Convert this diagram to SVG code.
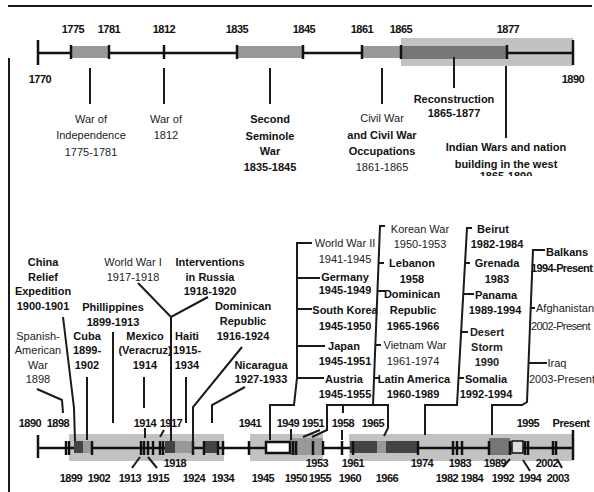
<svg xmlns="http://www.w3.org/2000/svg" width="594" height="492" viewBox="0 0 594 492">
<defs>
<style>
.t{font-family:"Liberation Sans",Arial,sans-serif;font-size:11px;text-anchor:middle;fill:#222}
.b{font-weight:bold;fill:#111}
.y{font-weight:bold;fill:#111;letter-spacing:-0.5px}
.s{text-anchor:start}
.n{letter-spacing:-0.6px}
.ln{stroke:#1a1a1a;stroke-width:2;fill:none}
.ax{stroke:#111;stroke-width:2.5;fill:none}
.tk{stroke:#111;stroke-width:2.5}
.lt{fill:#c2c2c2}
.md{fill:#999}
.dk{fill:#444}
</style>
<clipPath id="cut"><rect x="440" y="140" width="140" height="36"/></clipPath>
</defs>
<rect width="594" height="492" fill="#fff"/>
<g id="frame" class="ln">
<line x1="8" y1="6" x2="592" y2="6"/>
<line x1="9" y1="58" x2="9" y2="492"/>
</g>

<g id="top-timeline">
<rect class="lt" x="401" y="38" width="172" height="28"/>
<line class="ax" x1="38" y1="53" x2="573" y2="53" stroke-width="3"/>
<rect class="md" x="71" y="46" width="38" height="12"/>
<rect class="md" x="237" y="46" width="66" height="12"/>
<rect class="md" x="362" y="46" width="39" height="12"/>
<rect fill="#777" x="401" y="46" width="106" height="13"/>
<g class="tk">
<line x1="38" y1="40" x2="38" y2="65"/>
<line x1="71" y1="45" x2="71" y2="59"/>
<line x1="109" y1="45" x2="109" y2="59"/>
<line x1="164" y1="45" x2="164" y2="59"/>
<line x1="237" y1="45" x2="237" y2="59"/>
<line x1="303" y1="45" x2="303" y2="59"/>
<line x1="362" y1="45" x2="362" y2="59"/>
<line x1="401" y1="45" x2="401" y2="59"/>
<line x1="507" y1="45" x2="507" y2="59"/>
<line x1="573" y1="40" x2="573" y2="65"/>
</g>
<g class="t y">
<text x="73" y="33">1775</text>
<text x="109" y="33">1781</text>
<text x="164" y="33">1812</text>
<text x="237" y="33">1835</text>
<text x="304" y="33">1845</text>
<text x="362" y="33">1861</text>
<text x="401" y="33">1865</text>
<text x="508" y="33">1877</text>
<text x="40" y="83">1770</text>
<text x="573" y="83">1890</text>
</g>
</g>

<g id="top-connectors" class="ln">
<line x1="90" y1="68" x2="90" y2="104"/>
<line x1="164" y1="68" x2="164" y2="104"/>
<line x1="270" y1="68" x2="270" y2="104"/>
<line x1="382" y1="68" x2="382" y2="104"/>
<line x1="454" y1="57" x2="454" y2="88"/>
<line x1="506" y1="66" x2="506" y2="138"/>
</g>

<g id="war-of-independence" class="t">
<text x="91" y="122.5">War of</text>
<text x="91" y="139">Independence</text>
<text x="91" y="155.5">1775-1781</text>
</g>
<g id="war-of-1812" class="t">
<text x="166" y="122.5">War of</text>
<text x="166" y="139">1812</text>
</g>
<g id="second-seminole-war" class="t b">
<text x="270" y="123">Second</text>
<text x="270" y="139.5">Seminole</text>
<text x="270" y="155">War</text>
<text x="270" y="171">1835-1845</text>
</g>
<g id="civil-war" class="t">
<text x="382" y="122">Civil War</text>
<text class="b" x="382" y="138.5">and Civil War</text>
<text class="b" x="382" y="154.5">Occupations</text>
<text x="382" y="170.5">1861-1865</text>
</g>
<g id="reconstruction" class="t b">
<text x="454" y="102.5">Reconstruction</text>
<text x="454" y="117">1865-1877</text>
</g>
<g id="indian-wars" class="t b">
<text x="506" y="151">Indian Wars and nation</text>
<text x="506" y="167.5">building in the west</text>
<text x="506" y="180" clip-path="url(#cut)">1865-1890</text>
</g>

<g id="bottom-timeline">
<rect class="lt" x="69" y="434" width="155" height="27"/>
<rect class="lt" x="250" y="434" width="73" height="27"/>
<rect class="lt" x="349" y="434" width="224" height="27"/>
<line class="ax" x1="38" y1="448" x2="573" y2="448" stroke-width="2"/>
<rect class="dk" x="74" y="441" width="9" height="12"/>
<rect class="md" x="83" y="441" width="9" height="12"/>
<rect class="dk" x="165" y="441" width="10" height="12"/>
<rect class="md" x="175" y="441" width="18" height="12"/>
<rect class="dk" x="204" y="441" width="14" height="12"/>
<rect class="md" x="290" y="438" width="33" height="17"/>
<rect fill="#fff" stroke="#111" stroke-width="2.5" x="266" y="442" width="24" height="11"/>
<rect class="dk" x="350" y="441" width="27" height="12"/>
<rect class="md" x="377" y="441" width="9" height="12"/>
<rect class="dk" x="386" y="441" width="32" height="12"/>
<rect fill="#777" x="489" y="438" width="21" height="17"/>
<rect fill="#ddd" stroke="#111" stroke-width="1.5" x="512" y="441" width="11" height="12"/>
<g class="tk">
<line x1="38" y1="435" x2="38" y2="458"/>
<line x1="66" y1="441" x2="66" y2="455"/>
<line x1="69" y1="441" x2="69" y2="455"/>
<line x1="92" y1="441" x2="92" y2="455"/>
<line x1="141" y1="441" x2="141" y2="455"/>
<line x1="144" y1="441" x2="144" y2="455"/>
<line x1="148" y1="441" x2="148" y2="455"/>
<line x1="153" y1="441" x2="153" y2="455"/>
<line x1="160" y1="441" x2="160" y2="455"/>
<line x1="163" y1="441" x2="163" y2="455"/>
<line x1="193" y1="441" x2="193" y2="455"/>
<line x1="204" y1="441" x2="204" y2="455"/>
<line x1="218" y1="441" x2="218" y2="455"/>
<line x1="223" y1="441" x2="223" y2="455"/>
<line x1="249" y1="441" x2="249" y2="455"/>
<line x1="293" y1="441" x2="293" y2="455"/>
<line x1="296" y1="441" x2="296" y2="455"/>
<line x1="313" y1="441" x2="313" y2="455"/>
<line x1="323" y1="441" x2="323" y2="455"/>
<line x1="342" y1="441" x2="342" y2="455"/>
<line x1="353" y1="441" x2="353" y2="455"/>
<line x1="418" y1="441" x2="418" y2="455"/>
<line x1="453" y1="441" x2="453" y2="455"/>
<line x1="457" y1="441" x2="457" y2="455"/>
<line x1="462" y1="441" x2="462" y2="455"/>
<line x1="489" y1="441" x2="489" y2="455"/>
<line x1="510" y1="441" x2="510" y2="455"/>
<line x1="525" y1="441" x2="525" y2="455"/>
<line x1="528" y1="441" x2="528" y2="455"/>
<line x1="553" y1="441" x2="553" y2="455"/>
<line x1="556" y1="441" x2="556" y2="455"/>
<line x1="573" y1="430" x2="573" y2="460"/>
</g>
<g class="t y">
<text x="30" y="427">1890</text>
<text x="58" y="427">1898</text>
<text x="145" y="427">1914</text>
<text x="171" y="427">1917</text>
<text x="250" y="427">1941</text>
<text x="288" y="427">1949</text>
<text x="313" y="427">1951</text>
<text x="343" y="427">1958</text>
<text x="373" y="427">1965</text>
<text x="528" y="427">1995</text>
<text x="571" y="427">Present</text>
<text x="175" y="467">1918</text>
<text x="317" y="467">1953</text>
<text x="353" y="467">1961</text>
<text x="422" y="467">1974</text>
<text x="460" y="467">1983</text>
<text x="495" y="467">1989</text>
<text x="547" y="467">2002</text>
<text x="71" y="482">1899</text>
<text x="99" y="482">1902</text>
<text x="130" y="482">1913</text>
<text x="158" y="482">1915</text>
<text x="194" y="482">1924</text>
<text x="223" y="482">1934</text>
<text x="263" y="482">1945</text>
<text x="296" y="482">1950</text>
<text x="320" y="482">1955</text>
<text x="350" y="482">1960</text>
<text x="387" y="482">1966</text>
<text x="447" y="482">1982</text>
<text x="472" y="482">1984</text>
<text x="503" y="482">1992</text>
<text x="530" y="482">1994</text>
<text x="558" y="482">2003</text>
</g>
</g>

<g id="connectors" class="ln">
<polyline points="63,317 74,408 75,441"/>
<line x1="87" y1="377" x2="87" y2="440"/>
<polyline points="37,389 62,400 63,413"/>
<line x1="113" y1="332" x2="113" y2="423"/>
<line x1="144" y1="377" x2="144" y2="408"/>
<line x1="145" y1="428" x2="145" y2="438"/>
<polyline points="138,283 171,317 208,297"/>
<line x1="171" y1="317" x2="171" y2="441"/>
<line x1="186" y1="377" x2="186" y2="423"/>
<polyline points="242,347 193,407 193,452"/>
<polyline points="245,387 212,405 212,423"/>
<line x1="164" y1="430" x2="160" y2="437"/>
<line x1="132" y1="468" x2="140" y2="457"/>
<line x1="148" y1="457" x2="157" y2="468"/>
<polyline points="312,243 297,243 297,378 294,405 270,405 270,440"/>
<line x1="297" y1="278" x2="320" y2="278"/>
<line x1="297" y1="309" x2="312" y2="309"/>
<line x1="297" y1="346" x2="325" y2="346"/>
<line x1="297" y1="378" x2="324" y2="378"/>
<line x1="291" y1="429" x2="291" y2="440"/>
<line x1="320" y1="430" x2="303" y2="437"/>
<polyline points="385,226 380,226 373,405"/>
<line x1="379" y1="263" x2="384" y2="263"/>
<line x1="378" y1="291" x2="385" y2="291"/>
<line x1="376" y1="345" x2="381" y2="345"/>
<line x1="375" y1="378" x2="380" y2="378"/>
<polyline points="312,437 327,430 327,405 388,405 388,428 384,436"/>
<line x1="343" y1="405" x2="343" y2="413"/>
<line x1="342" y1="430" x2="342" y2="440"/>
<polyline points="472,228 467,228 457,405 425,405 425,435"/>
<line x1="465" y1="263" x2="470" y2="263"/>
<line x1="464" y1="294" x2="474" y2="294"/>
<line x1="462" y1="332" x2="468" y2="332"/>
<line x1="458" y1="378" x2="464" y2="378"/>
<polyline points="545,250 533,250 527,402 522,405 492,405 492,435"/>
<line x1="530" y1="308" x2="535" y2="308"/>
<line x1="528" y1="363" x2="547" y2="363"/>
<line x1="503" y1="467" x2="510" y2="459"/>
<line x1="523" y1="460" x2="530" y2="471"/>
<line x1="557" y1="459" x2="562" y2="468"/>
</g>

<g id="china-relief" class="t b">
<text x="43" y="266">China</text>
<text x="43" y="280.5">Relief</text>
<text x="43" y="295">Expedition</text>
<text x="43" y="309.5">1900-1901</text>
</g>
<g id="world-war-i" class="t">
<text x="133" y="266">World War I</text>
<text x="133" y="281">1917-1918</text>
</g>
<g id="interventions-russia" class="t b">
<text x="210" y="266">Interventions</text>
<text x="210" y="281">in Russia</text>
<text x="210" y="295">1918-1920</text>
</g>
<g id="phillippines" class="t b">
<text x="113" y="310.5">Phillippines</text>
<text x="113" y="325.5">1899-1913</text>
</g>
<g id="spanish-american" class="t">
<text x="38" y="339.5">Spanish-</text>
<text x="38" y="354">American</text>
<text x="38" y="368.5">War</text>
<text x="38" y="383">1898</text>
</g>
<g id="cuba" class="t b">
<text x="87" y="339.5">Cuba</text>
<text x="87" y="354">1899-</text>
<text x="87" y="368.5">1902</text>
</g>
<g id="mexico" class="t b">
<text x="145" y="339.5">Mexico</text>
<text x="145" y="354">(Veracruz)</text>
<text x="145" y="368.5">1914</text>
</g>
<g id="haiti" class="t b">
<text x="187" y="339.5">Haiti</text>
<text x="187" y="354">1915-</text>
<text x="187" y="368.5">1934</text>
</g>
<g id="dominican-1916" class="t b">
<text x="243" y="309.5">Dominican</text>
<text x="243" y="324.5">Republic</text>
<text x="243" y="340">1916-1924</text>
</g>
<g id="nicaragua" class="t b">
<text x="261" y="368.5">Nicaragua</text>
<text x="261" y="383">1927-1933</text>
</g>
<g id="wwii-group" class="t">
<text x="345" y="247">World War II</text>
<text x="345" y="262.5">1941-1945</text>
<text class="b" x="345" y="281">Germany</text>
<text class="b" x="345" y="293.5">1945-1949</text>
<text class="b" x="345" y="313.5">South Korea</text>
<text class="b" x="345" y="330">1945-1950</text>
<text class="b" x="344" y="349.5">Japan</text>
<text class="b" x="345" y="364.5">1945-1951</text>
<text class="b" x="344" y="382.5">Austria</text>
<text class="b" x="345" y="397.5">1945-1955</text>
</g>
<g id="korea-group" class="t">
<text x="420" y="233">Korean War</text>
<text x="420" y="247.5">1950-1953</text>
<text class="b" x="412" y="267">Lebanon</text>
<text class="b" x="412" y="282.5">1958</text>
<text class="b" x="412" y="298">Dominican</text>
<text class="b" x="413" y="313.5">Republic</text>
<text class="b" x="413" y="330">1965-1966</text>
<text x="415" y="349">Vietnam War</text>
<text x="413" y="364.5">1961-1974</text>
<text class="b" x="414" y="382.5">Latin America</text>
<text class="b" x="413" y="397.5">1960-1989</text>
</g>
<g id="beirut-group" class="t b">
<text x="493" y="233">Beirut</text>
<text x="497" y="247.5">1982-1984</text>
<text x="497" y="267">Grenada</text>
<text x="497" y="282.5">1983</text>
<text x="496" y="298.5">Panama</text>
<text x="495" y="313.5">1989-1994</text>
<text class="t" x="487" y="336">Desert</text>
<text class="t" x="487" y="350.5">Storm</text>
<text class="t" x="487" y="366">1990</text>
<text x="486" y="382.5">Somalia</text>
<text x="486" y="397.5">1992-1994</text>
</g>
<g id="balkans-group" class="t">
<text class="b s" x="546" y="256">Balkans</text>
<text class="b s n" x="531" y="272">1994-Present</text>
<text class="s" x="536" y="311.5">Afghanistan</text>
<text class="s n" x="531" y="330">2002-Present</text>
<text x="557" y="366.5">Iraq</text>
<text class="s" x="529" y="382.5">2003-Present</text>
</g>
</svg>
